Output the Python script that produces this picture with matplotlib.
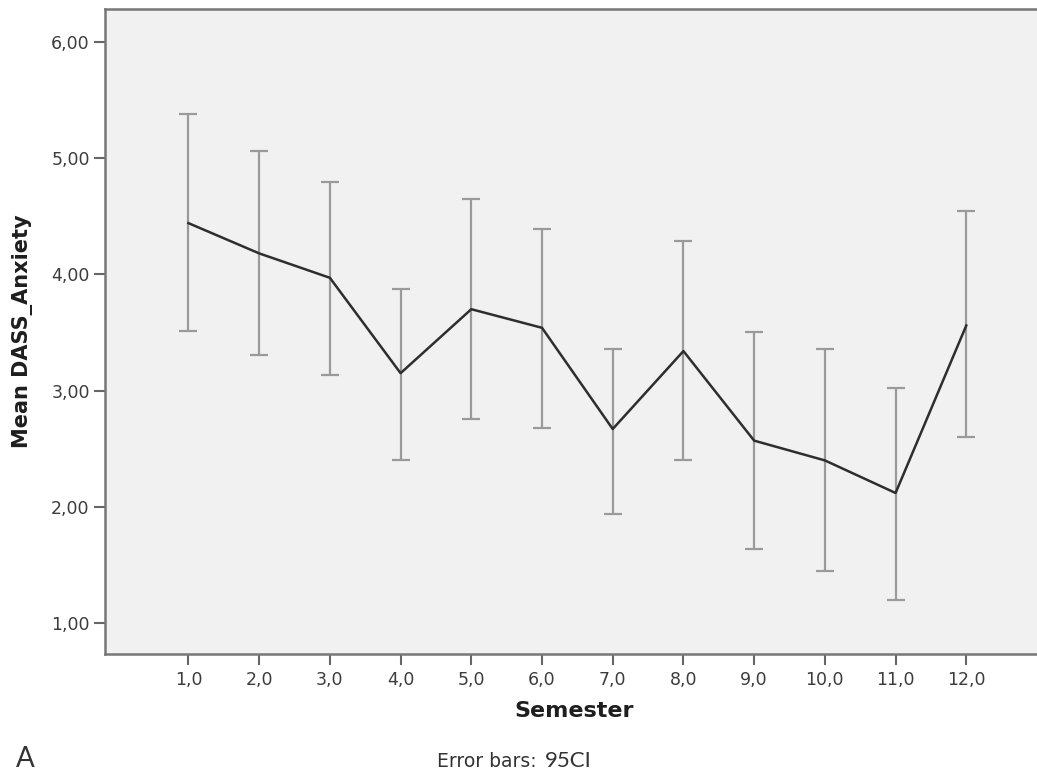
import matplotlib
matplotlib.use("Agg")
import matplotlib.pyplot as plt

# semester means of DASS anxiety with 95% CI bounds
semester = [1, 2, 3, 4, 5, 6, 7, 8, 9, 10, 11, 12]
mean = [4.44, 4.18, 3.97, 3.15, 3.70, 3.54, 2.67, 3.34, 2.57, 2.40, 2.12, 3.56]
ci_low = [3.51, 3.31, 3.13, 2.40, 2.76, 2.68, 1.94, 2.40, 1.64, 1.45, 1.20, 2.60]
ci_high = [5.38, 5.06, 4.79, 3.87, 4.65, 4.39, 3.36, 4.29, 3.50, 3.36, 3.02, 4.54]

x_ticks = semester
x_labels = ["%d,0" % s for s in semester]
y_ticks = [1, 2, 3, 4, 5, 6]
y_labels = ["%d,00" % v for v in y_ticks]

fig = plt.figure(figsize=(10.37, 7.72), dpi=100)
ax = fig.add_axes([105 / 1037, 1 - 654.3 / 772, 1 - 105 / 1037, (654.3 - 9) / 772])
ax.set_facecolor("#f1f1f1")

err_lo = [m - l for m, l in zip(mean, ci_low)]
err_hi = [h - m for m, h in zip(mean, ci_high)]
ax.errorbar(semester, mean, yerr=[err_lo, err_hi], fmt="none",
            ecolor="#9a9a9a", elinewidth=1.6, capsize=6.5, capthick=1.6, zorder=2)
ax.plot(semester, mean, color="#2e2e2e", linewidth=1.8, zorder=3)

ax.set_xlim(-0.18, 13.0)
ax.set_ylim(0.733, 6.281)

ax.set_xticks(x_ticks)
ax.set_xticklabels(x_labels)
ax.set_yticks(y_ticks)
ax.set_yticklabels(y_labels)
ax.tick_params(axis="both", direction="out", length=8, width=1.5, color="#666666",
               labelsize=12.5, labelcolor="#3c3c3c")
ax.tick_params(axis="x", pad=4)
ax.tick_params(axis="y", pad=3)

for side in ["left", "top", "bottom"]:
    ax.spines[side].set_color("#777777")
    ax.spines[side].set_linewidth(1.8)
ax.spines["right"].set_visible(False)

ax.set_ylabel("Mean DASS_Anxiety", fontsize=15, fontweight="bold", color="#1e1e1e")
ax.yaxis.set_label_coords((23 - 105) / 932, 0.5)
ax.yaxis.label.set_va("center")
ax.set_xlabel("Semester", fontsize=16, fontweight="bold", color="#1e1e1e")
ax.xaxis.set_label_coords((574 - 105) / 932, (654.3 - 711) / 645.3)
ax.xaxis.label.set_va("center")

fig.text(537 / 1037, 1 - 767 / 772, "Error bars:", ha="right", va="baseline",
         fontsize=13.5, color="#333333", family=["Liberation Sans Narrow", "DejaVu Sans"])
fig.text(545 / 1037, 1 - 767 / 772, "95CI", ha="left", va="baseline",
         fontsize=16, color="#333333", family=["Lato", "DejaVu Sans"])
fig.text(16 / 1037, 1 - 767 / 772, "A", ha="left", va="baseline",
         fontsize=20, color="#333333", family=["Lato", "DejaVu Sans"])

fig.savefig("out.png", dpi=100, facecolor="white")
